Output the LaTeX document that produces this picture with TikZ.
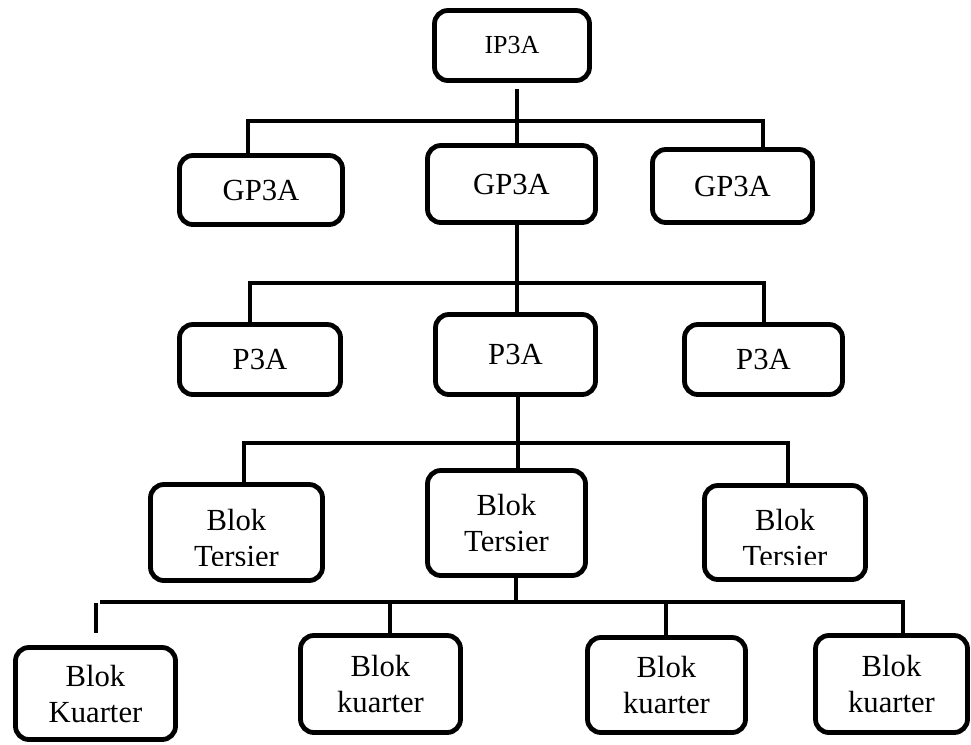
\documentclass[tikz,border=0pt]{standalone}
\usepackage{fontspec}
\setmainfont{Liberation Serif}
\newcommand\labelfont{\fontsize{23}{27}\selectfont}
\newcommand\topfont{\fontsize{19.5}{23}\selectfont}
\begin{document}
\begin{tikzpicture}[x=0.75pt,y=-0.75pt,
  box/.style 2 args={draw, line width=3.6pt, rounded corners=10pt, inner sep=0pt,
    minimum width=#1*0.75pt, minimum height=#2*0.75pt, align=center, font=\labelfont},
  link/.style={line width=2.5pt},
  lbl/.style={inner sep=0pt, align=center, font=\labelfont}]
\useasboundingbox (0,0) rectangle (971,744);

% boxes
\node[box={155}{70}, font=\topfont] (ip) at (512,45.5) {IP3A};
\node[box={163}{69}] (gl) at (261,190) {GP3A};
\node[box={168}{77}] (gm) at (511.5,184) {GP3A};
\node[box={160}{73}] (gr) at (732.5,186) {GP3A};
\node[box={161}{70}] (pl) at (260,359.5) {P3A};
\node[box={160}{80}] (pm) at (515.5,354.5) {P3A};
\node[box={158}{70}] (pr) at (763.5,359.5) {P3A};
\node[box={172}{96}] (tl) at (236.5,532.5) {};
\node[box={158}{105}] (tm) at (506.5,523) {Blok\\Tersier};
\node[box={161}{94}] (tr) at (785,532.5) {};
\node[box={160}{92}] (k1) at (95.5,693.5) {Blok\\Kuarter};
\node[box={160}{97}] (k2) at (380.5,684) {Blok\\kuarter};
\node[box={158}{95}] (k3) at (666.5,685) {Blok\\kuarter};
\node[box={152}{97}] (k4) at (891.5,684) {Blok\\kuarter};

% side labels of the tertiary row, cut off at the bottom
\begin{scope}
  \clip (150,484) rectangle (323,565);
  \node[lbl] (tltext) at (236.5,538) {Blok\\Tersier};
\end{scope}
\begin{scope}
  \clip (704,485) rectangle (866,564);
  \node[lbl] (trtext) at (785,538) {Blok\\Tersier};
\end{scope}

% trunk and branch points
\coordinate (a0) at (517,89);
\coordinate (b1l) at (248,121);
\coordinate (b1r) at (763,121);
\coordinate (b2l) at (250,283);
\coordinate (b2r) at (764,283);
\coordinate (a3) at (518,443);
\coordinate (b3l) at (244,443);
\coordinate (b3r) at (788,443);
\coordinate (a4) at (516,602);
\coordinate (b4l) at (100,602);
\coordinate (b4r) at (903,602);
\coordinate (c2) at (390,602);
\coordinate (c3) at (666,602);
\coordinate (s1) at (96,603);
\coordinate (s2) at (96,633);

% level 1
\draw[link] (a0) -- (a0 |- gm.north);
\draw[link] (b1l |- gl.north) -- (b1l) -- (b1r) -- (b1r |- gr.north);
% level 2
\draw[link] (gm.south -| a0) -- (pm.north -| a0);
\draw[link] (b2l |- pl.north) -- (b2l) -- (b2r) -- (b2r |- pr.north);
% level 3
\draw[link] (pm.south -| a3) -- (tm.north -| a3);
\draw[link] (b3l |- tl.north) -- (b3l) -- (b3r) -- (b3r |- tr.north);
% level 4
\draw[link] (tm.south -| a4) -- (a4);
\draw[link] (b4l) -- (b4r) -- (b4r |- k4.north);
\draw[link] (s1) -- (s2);
\draw[link] (c2) -- (c2 |- k2.north);
\draw[link] (c3) -- (c3 |- k3.north);
\end{tikzpicture}
\end{document}
